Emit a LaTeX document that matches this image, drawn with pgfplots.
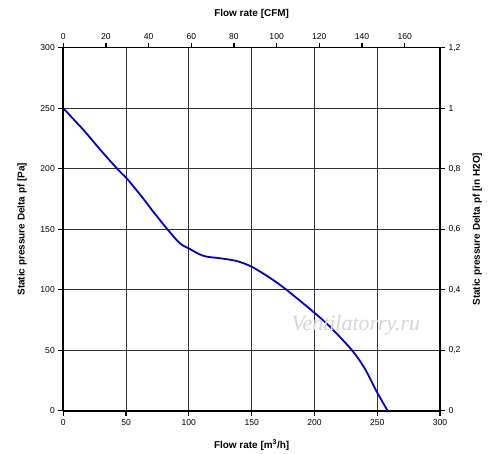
\documentclass[border=0pt]{standalone}
\usepackage{fontspec}
\setmainfont{Liberation Sans}
\newfontfamily\wmfont{Liberation Serif}
\usepackage{pgfplots}
\pgfplotsset{compat=1.18}
\begin{document}
\begin{tikzpicture}
\useasboundingbox (-63.3bp,-43.3bp) rectangle (436.7bp,410.7bp);
\pgfplotsset{
  every axis/.append style={
    scale only axis, width=376.7bp, height=363bp,
    at={(0,0)}, anchor=south west,
    tick align=outside, major tick length=5bp,
    tick style={line width=1.2bp, black},
    ticklabel style={font=\fontsize{8.6}{10}\selectfont},
    label style={font=\fontsize{10}{12}\selectfont\bfseries},
    /pgf/number format/assume math mode=true,
    /pgf/number format/use comma,
    axis line style={line width=1.6bp},
  }
}
\begin{axis}[
  xmin=0, xmax=300, ymin=0, ymax=300,
  axis x line*=bottom, axis y line*=left,
  xtick={0,50,...,300}, ytick={0,50,...,300},
  grid=major, grid style={line width=0.8bp, black!80},
  xlabel={Flow rate [m\textsuperscript{3}/h]},
  ylabel={Static pressure Delta pf [Pa]},
  xlabel style={at={(axis description cs:0.5,-0.0945)}, anchor=center},
  ylabel style={at={(axis description cs:-0.1096,0.5)}, anchor=center},
]
\addplot[color={rgb,255:red,0;green,0;blue,204}, line width=1.8bp, smooth, tension=0.5] coordinates {
(0,250) (10,238.8) (17.3,230.6) (30,215) (43.8,199) (50.5,192) (62.4,177)
(72,164) (82.3,150.7) (92.9,138.3) (100.9,133.6) (108,129.5) (114.2,127.3)
(124.8,126) (138,123.7) (150,119) (165,109.5) (177.9,99.8) (199,81.8)
(212.4,69.4) (229.7,50.2) (240,35) (249.6,15.7) (258.3,0)
};
\node[font=\wmfont\itshape\fontsize{22}{24}\selectfont, text=black!16, anchor=center] at (axis cs:233,71) {Ventilatorry.ru};
\end{axis}
\begin{axis}[
  xmin=0, xmax=176.57, ymin=0, ymax=1.2,
  axis x line*=top, axis y line*=right,
  xtick={0,20,...,160}, ytick={0,0.2,0.4,0.6,0.8,1,1.2},
  xlabel={Flow rate [CFM]},
  ylabel={Static pressure Delta pf [in H2O]},
  xlabel style={at={(axis description cs:0.5,1.0928)}, anchor=center},
  ylabel style={at={(axis description cs:1.0993,0.5)}, anchor=center},
]
\end{axis}
\end{tikzpicture}
\end{document}
